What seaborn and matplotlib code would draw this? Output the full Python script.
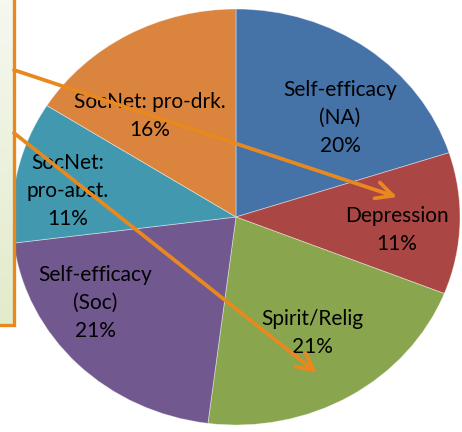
import numpy as np
import matplotlib
matplotlib.use("Agg")
import matplotlib.pyplot as plt
from matplotlib.patches import Rectangle
import seaborn as sns

sns.set_theme(style="white")
plt.rcParams['font.family'] = ['Lato', 'DejaVu Sans']

# Data
categories = ["Self-efficacy\n(NA)", "Depression", "Spirit/Relig",
              "Self-efficacy\n(Soc)", "SocNet:\npro-abst.", "SocNet: pro-drk."]
shares = [20, 11, 21, 21, 11, 16]
colors = ["#4572A7", "#AA4643", "#89A54E", "#71588F", "#4198AF", "#DB843D"]

W, H = 462, 432
fig = plt.figure(figsize=(W / 100, H / 100), dpi=100)
fig.patch.set_facecolor("white")

# Pie axes (elliptical pie as in the reference)
ax = fig.add_axes([0, 0, 1, 1])
cx, cy, rx, ry = 236, 217, 224, 208
ax.pie(shares, colors=colors, startangle=90, counterclock=False,
       wedgeprops=dict(edgecolor=(1, 1, 1, 0.45), linewidth=0.6))
ax.set_aspect('auto')
xmin = -cx / rx
ax.set_xlim(xmin, xmin + W / rx)
ymin = -(H - cy) / ry
ax.set_ylim(ymin, ymin + H / ry)
ax.axis('off')

# Overlay in pixel coordinates
ov = fig.add_axes([0, 0, 1, 1], facecolor="none")
ov.set_xlim(0, W)
ov.set_ylim(H, 0)
ov.axis('off')

label_pos = [(340, 118), (397, 230), (312, 333), (95, 303), (68, 191), (150, 116)]
for (lx, ly), cat, val in zip(label_pos, categories, shares):
    ov.text(lx, ly, f"{cat}\n{val}%", ha="center", va="center",
            fontsize=15, color="black", linespacing=1.5)

# Text box (partially visible) with gradient fill
grad = np.linspace(0, 1, 256).reshape(-1, 1)
top = np.array([0.965, 0.972, 0.945])
bot = np.array([0.886, 0.922, 0.792])
img = top + (bot - top) * grad[..., None]
ov.imshow(img, extent=(-5, 14, 325, -5), aspect='auto', zorder=3)
orange = "#E8891F"
ov.add_patch(Rectangle((-5, -5), 19, 330, fill=False, edgecolor=orange,
                       linewidth=2.4, zorder=4))

# Arrows
arrows = [((14, 70), (397, 197)), ((14, 133), (317, 373))]
for (sx, sy), (tx, ty) in arrows:
    ov.annotate("", xy=(tx, ty), xytext=(sx, sy),
                arrowprops=dict(arrowstyle="->,head_length=1.0,head_width=0.5",
                                color=orange, lw=2.7, shrinkA=0, shrinkB=0),
                zorder=5)

ov.set_xlim(0, W)
ov.set_ylim(H, 0)
fig.savefig("out.png", dpi=100)
